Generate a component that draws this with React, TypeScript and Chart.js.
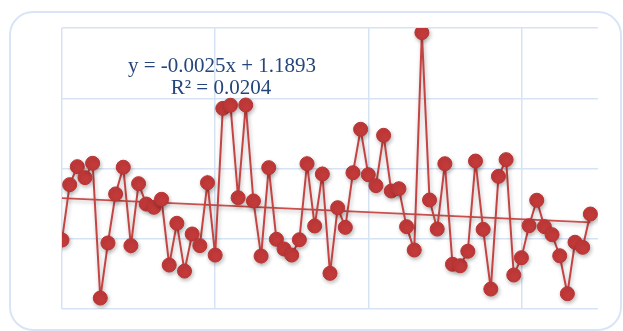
import React, { useEffect, useRef } from "react";
import { Chart, registerables } from "chart.js";

Chart.register(...registerables);

const xValues: number[] = Array.from({ length: 70 }, (_, i) => i);
const seriesValues: number[] = [
  0.891, 1.285, 1.413, 1.335, 1.437, 0.478, 0.870, 1.219, 1.409, 0.851,
  1.292, 1.147, 1.124, 1.181, 0.713, 1.010, 0.670, 0.934, 0.851, 1.299,
  0.784, 1.828, 1.850, 1.192, 1.852, 1.169, 0.777, 1.406, 0.896, 0.827,
  0.784, 0.893, 1.434, 0.991, 1.361, 0.654, 1.121, 0.981, 1.370, 1.679,
  1.356, 1.278, 1.636, 1.240, 1.256, 0.986, 0.820, 2.367, 1.176, 0.969,
  1.434, 0.718, 0.708, 0.811, 1.453, 0.967, 0.542, 1.344, 1.463, 0.642,
  0.765, 0.993, 1.174, 0.986, 0.929, 0.779, 0.509, 0.875, 0.839, 1.076,
];
const trendSlope = -0.0025;
const trendIntercept = 1.1893;
const equationLines: string[] = ["y = -0.0025x + 1.1893", "R² = 0.0204"];

const gridColor = "#d6e3f4";
const red = "#c43a3a";

export default function App() {
  const ref = useRef<HTMLCanvasElement | null>(null);
  useEffect(() => {
    if (!ref.current) return;
    const lastX = xValues[xValues.length - 1];
    const textPlugin = {
      id: "eqText",
      afterDraw(chart: any) {
        const c = chart.ctx;
        c.save();
        c.font = '21px "Liberation Serif", "Times New Roman", serif';
        c.fillStyle = "#25467a";
        c.textAlign = "center";
        c.textBaseline = "alphabetic";
        c.fillText(equationLines[0], 222, 72);
        c.fillText(equationLines[1], 221, 94);
        c.restore();
      },
    };
    const shadowPlugin = {
      id: "shadow",
      beforeDatasetsDraw(chart: any) {
        const c = chart.ctx;
        c.save();
        c.shadowColor = "rgba(0,0,0,0.28)";
        c.shadowBlur = 4;
        c.shadowOffsetX = 1;
        c.shadowOffsetY = 2;
      },
      afterDatasetsDraw(chart: any) {
        chart.ctx.restore();
      },
    };
    const chart = new Chart(ref.current, {
      type: "line",
      data: {
        datasets: [
          {
            data: [
              { x: 0, y: trendIntercept },
              { x: lastX, y: trendIntercept + trendSlope * lastX },
            ],
            borderColor: "#c9504d",
            borderWidth: 1.8,
            pointRadius: 0,
            order: 2,
          },
          {
            data: xValues.map((x, i) => ({ x, y: seriesValues[i] })),
            borderColor: "#c44444",
            borderWidth: 2,
            pointRadius: 7,
            pointBackgroundColor: red,
            pointBorderColor: "#b83434",
            pointBorderWidth: 1,
            tension: 0,
            order: 1,
          },
        ],
      },
      options: {
        animation: false,
        responsive: false,
        layout: { padding: { left: 62, right: 25, top: 28, bottom: 22 } },
        plugins: { legend: { display: false }, tooltip: { enabled: false } },
        scales: {
          x: {
            type: "linear",
            min: 0,
            max: 70,
            ticks: { stepSize: 20, display: false },
            grid: {
              drawTicks: false,
              lineWidth: 1.5,
              color: (ctx: any) => (ctx.tick && ctx.tick.value === 70 ? "rgba(0,0,0,0)" : gridColor),
            },
            border: { display: false },
          },
          y: {
            min: 0.4,
            max: 2.4,
            ticks: { stepSize: 0.5, display: false },
            grid: { drawTicks: false, lineWidth: 1.5, color: gridColor },
            border: { display: false },
          },
        },
      },
      plugins: [shadowPlugin, textPlugin],
    });
    return () => chart.destroy();
  }, []);
  return (
    <div style={{ position: "fixed", left: 0, top: 0, width: 623, height: 331, background: "#fff", overflow: "hidden" }}>
      <div
        style={{
          position: "absolute",
          left: 9,
          top: 11,
          width: 609,
          height: 316,
          border: "2px solid #d8e5f6",
          borderRadius: 24,
          boxSizing: "content-box",
        }}
      />
      <canvas ref={ref} width={623} height={331} style={{ position: "absolute", left: 0, top: 0 }} />
    </div>
  );
}
